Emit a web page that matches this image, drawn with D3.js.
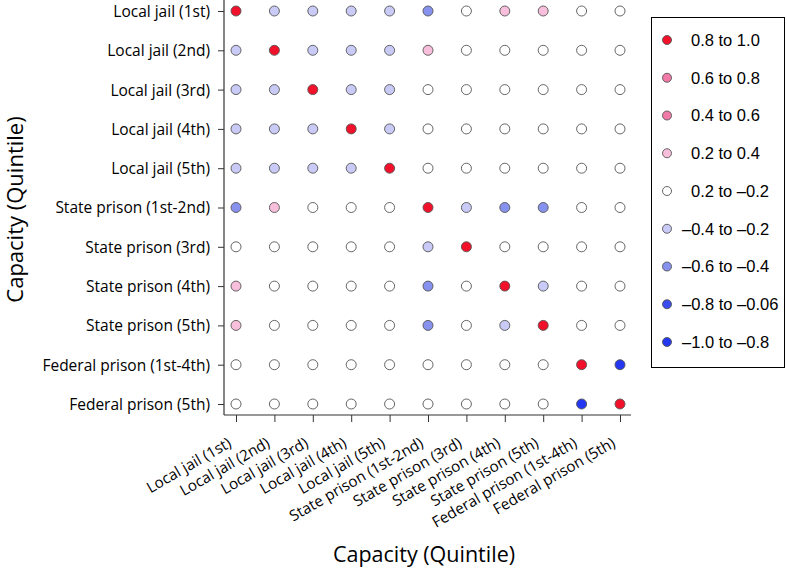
<!DOCTYPE html>
<html>
<head>
<meta charset="utf-8">
<script src="https://cdn.jsdelivr.net/npm/d3@7"></script>
<style>
  html, body { margin: 0; padding: 0; background: #fff; }
  svg { display: block; }
  .tick text { font-family: "Open Sans", sans-serif; fill: #000; }
  .tick line { stroke: #333; }
</style>
</head>
<body>
<svg id="chart" width="787" height="575"></svg>
<script>
// ---- data ----
const categories = [
  "Local jail (1st)", "Local jail (2nd)", "Local jail (3rd)", "Local jail (4th)", "Local jail (5th)",
  "State prison (1st-2nd)", "State prison (3rd)", "State prison (4th)", "State prison (5th)",
  "Federal prison (1st-4th)", "Federal prison (5th)"
];
// correlation matrix (rows = y categories, cols = x categories)
const corrRow1  = [ 1.00, -0.30, -0.30, -0.30, -0.30, -0.50,  0.05,  0.30,  0.30,  0.00,  0.00];
const corrRow2  = [-0.30,  1.00, -0.30, -0.30, -0.30,  0.30,  0.05,  0.05,  0.05,  0.00,  0.00];
const corrRow3  = [-0.30, -0.30,  1.00, -0.30, -0.30,  0.05,  0.05,  0.05,  0.05,  0.00,  0.00];
const corrRow4  = [-0.30, -0.30, -0.30,  1.00, -0.30,  0.05,  0.05,  0.05,  0.05,  0.00,  0.00];
const corrRow5  = [-0.30, -0.30, -0.30, -0.30,  1.00,  0.05,  0.05,  0.05,  0.05,  0.00,  0.00];
const corrRow6  = [-0.50,  0.30,  0.05,  0.05,  0.05,  1.00, -0.30, -0.50, -0.50,  0.00,  0.00];
const corrRow7  = [ 0.05,  0.05,  0.05,  0.05,  0.05, -0.30,  1.00,  0.05,  0.05,  0.00,  0.00];
const corrRow8  = [ 0.30,  0.05,  0.05,  0.05,  0.05, -0.50,  0.05,  1.00, -0.30,  0.00,  0.00];
const corrRow9  = [ 0.30,  0.05,  0.05,  0.05,  0.05, -0.50,  0.05, -0.30,  1.00,  0.00,  0.00];
const corrRow10 = [ 0.00,  0.00,  0.00,  0.00,  0.00,  0.00,  0.00,  0.00,  0.00,  1.00, -0.90];
const corrRow11 = [ 0.00,  0.00,  0.00,  0.00,  0.00,  0.00,  0.00,  0.00,  0.00, -0.90,  1.00];
const corrRows = [corrRow1, corrRow2, corrRow3, corrRow4, corrRow5, corrRow6,
                  corrRow7, corrRow8, corrRow9, corrRow10, corrRow11];

const legendLabels = ["0.8 to 1.0", "0.6 to 0.8", "0.4 to 0.6", "0.2 to 0.4", "0.2 to \u20130.2",
  "\u20130.4 to \u20130.2", "\u20130.6 to \u20130.4", "\u20130.8 to \u20130.06", "\u20131.0 to \u20130.8"];
const binThresholds = [-0.8, -0.6, -0.4, -0.2, 0.2, 0.4, 0.6, 0.8];
const binColors = ["#2438f2", "#3a4cee", "#8791ee", "#c9cbf6", "#ffffff", "#f8bfdc", "#f27aa8", "#f27aa8", "#f2112b"];
const axisTitle = "Capacity (Quintile)";

// ---- drawing ----
const svg = d3.select("#chart");
const axisLeftX = 224, axisBottomY = 415, axisRightX = 631, axisTopY = 0;

const x = d3.scalePoint().domain(categories).range([236, 620]);
const y = d3.scalePoint().domain(categories).range([11, 404]);
const color = d3.scaleThreshold().domain(binThresholds).range(binColors);

// frame lines (L shape)
svg.append("line").attr("x1", axisLeftX).attr("x2", axisLeftX)
  .attr("y1", axisTopY).attr("y2", axisBottomY).attr("stroke", "#333").attr("stroke-width", 1.2);
svg.append("line").attr("x1", axisLeftX).attr("x2", axisRightX)
  .attr("y1", axisBottomY).attr("y2", axisBottomY).attr("stroke", "#333").attr("stroke-width", 1.2);

// y axis
const gy = svg.append("g").attr("transform", `translate(${axisLeftX},0)`)
  .call(d3.axisLeft(y).tickSize(6).tickPadding(8));
gy.select(".domain").remove();
gy.selectAll(".tick text").attr("dy", "0.35em").style("font-size", "15.5px");

// x axis
const gx = svg.append("g").attr("transform", `translate(0,${axisBottomY})`)
  .call(d3.axisBottom(x).tickSize(7).tickPadding(4));
gx.select(".domain").remove();
gx.selectAll(".tick text")
  .style("font-size", "15.2px")
  .attr("text-anchor", "end")
  .attr("x", 0).attr("y", 0).attr("dy", 0)
  .attr("transform", "translate(-4,31) rotate(-30)");

// points
const cells = [];
corrRows.forEach((row, i) => row.forEach((v, j) => cells.push({r: categories[i], c: categories[j], v})));
svg.append("g").selectAll("circle").data(cells).join("circle")
  .attr("cx", d => x(d.c)).attr("cy", d => y(d.r)).attr("r", 5)
  .attr("fill", d => color(d.v)).attr("stroke", "#555").attr("stroke-width", 0.9);

// axis titles
svg.append("text").attr("x", 424).attr("y", 562)
  .attr("text-anchor", "middle").attr("font-family", "Open Sans, sans-serif")
  .attr("font-size", 21.5).text(axisTitle);
svg.append("text").attr("transform", `translate(23,${(axisTopY + axisBottomY) / 2 + 2}) rotate(-90)`)
  .attr("text-anchor", "middle").attr("font-family", "Open Sans, sans-serif")
  .attr("font-size", 22).text(axisTitle);

// legend
const lg = svg.append("g");
lg.append("rect").attr("x", 651.5).attr("y", 17.5).attr("width", 133).attr("height", 350)
  .attr("fill", "#fff").attr("stroke", "#000").attr("stroke-width", 1);
const legendColors = ["#f2112b", "#f27aa8", "#f27aa8", "#f8bfdc", "#ffffff", "#c9cbf6", "#8791ee", "#3a4cee", "#2438f2"];
const ly = d3.scalePoint().domain(legendLabels).range([40, 342]);
lg.selectAll("circle").data(legendLabels).join("circle")
  .attr("cx", 667).attr("cy", d => ly(d)).attr("r", 4.5)
  .attr("fill", (d, i) => legendColors[i]).attr("stroke", "#555").attr("stroke-width", 0.9);
lg.selectAll("text").data(legendLabels).join("text")
  .attr("x", d => d.startsWith("\u2013") ? 682 : 691).attr("y", d => ly(d)).attr("dy", "0.36em")
  .attr("font-family", "Liberation Sans, Arial, sans-serif").attr("font-size", 16.5).text(d => d);
</script>
</body>
</html>
